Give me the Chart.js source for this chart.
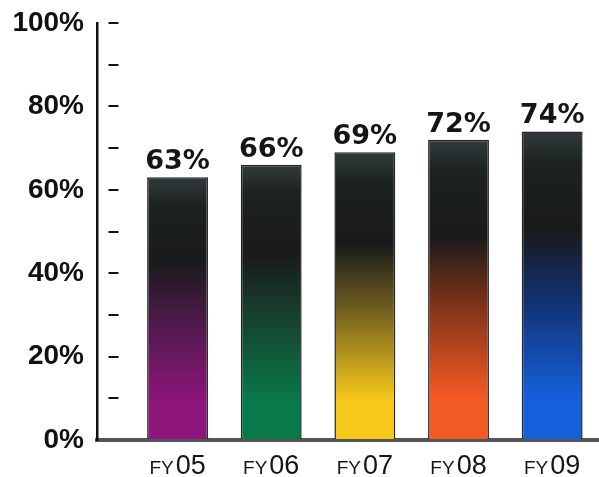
<!DOCTYPE html>
<html>
<head>
  <title>Share by fiscal year</title>
  <script src="https://cdn.jsdelivr.net/npm/chart.js"></script>
  <style>
    body {
      margin: 0;
      background: #fff;
    }
    #wrap {
      width: 599px;
      height: 477px;
    }
  </style>
</head>
<body>
  <div id="wrap"><canvas id="fyChart"></canvas></div>

  <script>
    const years = ['05', '06', '07', '08', '09'];
    const shares = [63, 66, 69, 72, 74];
    const yTicks = [0, 20, 40, 60, 80, 100];

    // colour at the foot of each bar, fading to near black at the top
    const footColors = ['#8e157c', '#08794a', '#f7c81c', '#f45a24', '#155fda'];
    const midColors = ['#4c1a48', '#173f2c', '#6e5c1e', '#7a3218', '#12306f'];

    function barFill(ctx) {
      const chart = ctx.chart;
      const i = ctx.dataIndex;
      if (!chart.chartArea) return footColors[i];
      const y = chart.scales.y;
      const bottom = y.getPixelForValue(0);
      const top = y.getPixelForValue(shares[i]);
      const g = chart.ctx.createLinearGradient(0, bottom, 0, top);
      g.addColorStop(0, footColors[i]);
      g.addColorStop(0.14, footColors[i]);
      g.addColorStop(0.46, midColors[i]);
      g.addColorStop(0.68, '#191a1b');
      g.addColorStop(0.9, '#1d2222');
      g.addColorStop(1, '#313b3b');
      return g;
    }

    // value labels above the bars
    const valueLabels = {
      id: 'valueLabels',
      afterDatasetsDraw(chart) {
        const c = chart.ctx;
        const meta = chart.getDatasetMeta(0);
        c.save();
        c.font = 'bold 27px "DejaVu Sans", sans-serif';
        c.fillStyle = '#151515';
        c.textAlign = 'center';
        c.textBaseline = 'alphabetic';
        meta.data.forEach((bar, i) => {
          c.fillText(shares[i] + '%', bar.x, bar.y - 8);
        });
        c.restore();
      }
    };

    // FY05 style labels: small "FY", larger digits
    const yearLabels = {
      id: 'yearLabels',
      afterDraw(chart) {
        const c = chart.ctx;
        const x = chart.scales.x;
        const base = chart.chartArea.bottom + 34;
        c.save();
        c.fillStyle = '#151515';
        c.textBaseline = 'alphabetic';
        c.textAlign = 'left';
        years.forEach((yr, i) => {
          const small = '19px "Liberation Sans", Arial, sans-serif';
          const big = '27px "Liberation Sans", Arial, sans-serif';
          c.font = small;
          const w1 = c.measureText('FY').width + 2;
          c.font = big;
          const w2 = c.measureText(yr).width;
          const left = x.getPixelForValue(i) - (w1 + w2) / 2;
          c.font = small;
          c.fillText('FY', left, base);
          c.font = big;
          c.fillText(yr, left + w1, base);
        });
        c.restore();
      }
    };

    new Chart(document.getElementById('fyChart'), {
      type: 'bar',
      data: {
        datasets: [{
          data: shares.map((v, i) => ({ x: i, y: v })),
          backgroundColor: barFill,
          borderColor: '#262626',
          borderWidth: 1.5,
          barPercentage: 0.65,
          categoryPercentage: 1
        }]
      },
      options: {
        responsive: true,
        maintainAspectRatio: false,
        animation: false,
        layout: { padding: { top: 23, left: 0, right: 0, bottom: 0 } },
        plugins: {
          legend: { display: false },
          tooltip: { enabled: false }
        },
        scales: {
          x: {
            type: 'linear',
            offset: false,
            min: -0.86,
            max: 4.5,
            grid: { display: false, drawTicks: false },
            ticks: { display: false, stepSize: 1, includeBounds: false },
            border: { display: true, color: '#555', width: 4 },
            afterFit(scale) { scale.height = 37; }
          },
          y: {
            min: 0,
            max: 100,
            ticks: {
              stepSize: 10,
              padding: 13,
              color: '#111',
              font: { family: '"Liberation Sans", Arial, sans-serif', size: 28, weight: 'bold', lineHeight: 0.5 },
              callback: v => yTicks.includes(v) ? v + '%' : ''
            },
            grid: {
              drawTicks: false,
              lineWidth: 2,
              color: ctx => ctx.tick && ctx.tick.value === 0 ? 'rgba(0,0,0,0)' : '#111'
            },
            border: { display: true, color: '#111', width: 2.5, dash: [10, 1000], dashOffset: 1000 },
            afterFit(scale) { scale.width = 97; }
          }
        }
      },
      plugins: [valueLabels, yearLabels]
    });
  </script>
</body>
</html>
